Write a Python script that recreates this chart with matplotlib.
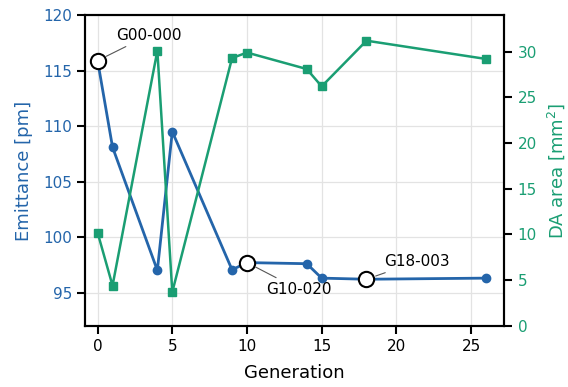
import numpy as np
import matplotlib
matplotlib.use("Agg")
import matplotlib.pyplot as plt

# data
generation = [0, 1, 4, 5, 9, 10, 14, 15, 18, 26]
emittance = [115.9, 108.1, 97.0, 109.5, 97.05, 97.7, 97.6, 96.3, 96.2, 96.3]
da_area = [10.2, 4.4, 30.1, 3.7, 29.3, 29.9, 28.1, 26.2, 31.2, 29.2]

highlight_gen = [0, 10, 18]
highlight_labels = ["G00-000", "G10-020", "G18-003"]
label_offsets = [(1.25, 118.2), (11.25, 95.3), (19.2, 97.8)]

blue = '#2465aa'
green = '#1a9e73'

fig = plt.figure(figsize=(5.68, 3.87), dpi=100)
ax = fig.add_axes([0.150, 0.158, 0.738, 0.803])
ax2 = ax.twinx()

ax.plot(generation, emittance, color=blue, linewidth=2, marker='o', markersize=6, zorder=3)
ax2.plot(generation, da_area, color=green, linewidth=1.8, marker='s', markersize=5.5, zorder=3)

# highlighted individuals on the emittance curve
for g, lab, (tx, ty) in zip(highlight_gen, highlight_labels, label_offsets):
    e = emittance[generation.index(g)]
    ax.plot(g, e, marker='o', markersize=11, markerfacecolor='white',
            markeredgecolor='black', markeredgewidth=1.5, zorder=5)
    ax.annotate(lab, xy=(g, e), xytext=(tx, ty), ha='left', va='center', fontsize=11,
                arrowprops=dict(arrowstyle='-', color='#555555', lw=0.8,
                                shrinkA=2, shrinkB=7), zorder=6)

ax.set_xlim(-0.83, 27.23)
ax.set_ylim(92, 120)
ax2.set_ylim(0, 34)
ax.set_xticks([0, 5, 10, 15, 20, 25])
ax.set_yticks([95, 100, 105, 110, 115, 120])
ax2.set_yticks([0, 5, 10, 15, 20, 25, 30])

ax.set_xlabel("Generation", fontsize=13, labelpad=7)
ax.set_ylabel("Emittance [pm]", fontsize=13, color=blue, labelpad=7)
ax2.set_ylabel("DA area [mm$^2$]", fontsize=13, color=green, labelpad=6)

ax.grid(True, color='#e3e3e3', linewidth=0.9)
ax.set_axisbelow(True)

for a in (ax, ax2):
    for s in a.spines.values():
        s.set_linewidth(1.5)
ax.tick_params(axis='both', labelsize=11, length=6, width=1.5)
ax.tick_params(axis='y', labelcolor=blue)
ax2.tick_params(axis='y', labelsize=11, length=6, width=1.5, labelcolor=green)

fig.savefig("out.png", dpi=100)
